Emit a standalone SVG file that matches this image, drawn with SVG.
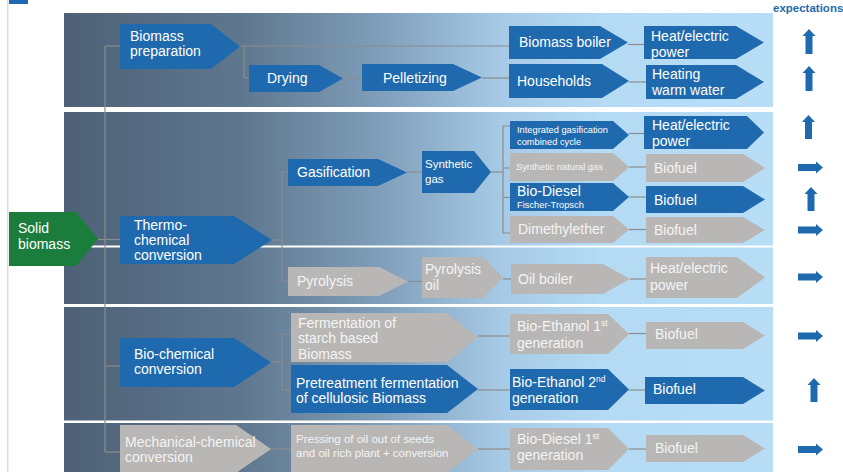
<svg xmlns="http://www.w3.org/2000/svg" width="843" height="472" viewBox="0 0 843 472">
  <defs>
    <linearGradient id="bg" gradientUnits="userSpaceOnUse" x1="64" y1="0" x2="773" y2="0">
      <stop offset="0" stop-color="#4e6176"/>
      <stop offset="0.25" stop-color="#5f778e"/>
      <stop offset="0.45" stop-color="#809fba"/>
      <stop offset="0.62" stop-color="#a7cbe7"/>
      <stop offset="0.76" stop-color="#b5daf4"/>
      <stop offset="1" stop-color="#b8ddf7"/>
    </linearGradient>
    <style>
      text { font-family: "Liberation Sans", Arial, sans-serif; font-size: 14px; fill: #ffffff; }
      .gt { fill: #f4f4f4; }
      .sm { font-size: 9.3px; }
      .md { font-size: 11.5px; }
      .blue { fill: #1f6aae; }
      .grey { fill: #b9b7b5; }
      .green { fill: #1a7d3b; }
      .exp { fill: #1f6aae; }
      .hdr { font-size: 11.5px; font-weight: bold; fill: #1f6aae; }
      #connectors line, #connectors path { stroke: #8c8c8c; stroke-width: 1.2; fill: none; }
    </style>
  </defs>

  <rect width="843" height="472" fill="#ffffff"/>
  <!-- page margin rule and tab -->
  <rect x="7" y="0" width="1.5" height="472" fill="#dcdcdc"/>
  <rect x="9" y="0" width="19" height="4" fill="#1f6aae"/>

  <!-- background bands -->
  <g id="bands">
    <rect x="64" y="13" width="709" height="94" fill="url(#bg)"/>
    <rect x="64" y="112" width="709" height="192" fill="url(#bg)"/>
    <rect x="64" y="245.5" width="709" height="2" fill="#ffffff"/>
    <rect x="64" y="307" width="709" height="113.5" fill="url(#bg)"/>
    <rect x="64" y="423" width="709" height="49" fill="url(#bg)"/>
  </g>

  <text x="773" y="12" class="hdr">expectations</text>

  <!-- connectors -->
  <g id="connectors">
    <line x1="105" y1="46" x2="105" y2="452"/>
    <line x1="105" y1="46" x2="120" y2="46"/>
    <line x1="98" y1="239.5" x2="120" y2="239.5"/>
    <line x1="105" y1="366" x2="120" y2="366"/>
    <line x1="105" y1="452" x2="120" y2="452"/>
    <line x1="240" y1="46" x2="509" y2="46"/>
    <path d="M244 46 V77.5 H249"/>
    <line x1="343" y1="78" x2="362" y2="78"/>
    <line x1="482" y1="78" x2="509" y2="78"/>
    <line x1="628" y1="44.5" x2="644" y2="44.5"/>
    <line x1="629" y1="82" x2="646" y2="82"/>
    <line x1="272" y1="240" x2="282" y2="240"/>
    <path d="M288 172 H282 V281 H288"/>
    <line x1="407" y1="172" x2="422" y2="172"/>
    <line x1="491" y1="172" x2="503" y2="172"/>
    <path d="M510 126 H503 V233 H510"/>
    <line x1="503" y1="168" x2="510" y2="168"/>
    <line x1="503" y1="197.5" x2="510" y2="197.5"/>
    <line x1="629" y1="133.5" x2="644" y2="133.5"/>
    <line x1="629" y1="167" x2="646" y2="167"/>
    <line x1="629" y1="197" x2="646" y2="197"/>
    <line x1="629" y1="229.5" x2="646" y2="229.5"/>
    <line x1="408" y1="281.5" x2="422" y2="281.5"/>
    <line x1="503" y1="279" x2="511" y2="279"/>
    <line x1="630" y1="279" x2="646" y2="279"/>
    <line x1="271" y1="362" x2="282" y2="362"/>
    <path d="M291 334 H282 V390 H291"/>
    <line x1="478" y1="336" x2="510" y2="336"/>
    <line x1="478" y1="390" x2="510" y2="390"/>
    <line x1="629" y1="333.5" x2="646" y2="333.5"/>
    <line x1="629" y1="390" x2="645" y2="390"/>
    <line x1="271" y1="449" x2="291" y2="449"/>
    <line x1="478" y1="449" x2="510" y2="449"/>
    <line x1="629" y1="449" x2="646" y2="449"/>
  </g>

  <!-- band 1: biomass preparation -->
  <g id="prep"><path class="blue" d="M120 24 H211 L240 46.5 L211 69 H120 Z"/><text x="130" y="41">Biomass</text><text x="130" y="56">preparation</text></g>
  <g id="drying"><path class="blue" d="M249 65 H319 L343 78.5 L319 92 H249 Z"/><text x="267" y="83">Drying</text></g>
  <g id="pelletizing"><path class="blue" d="M362 64 H453 L482 77.5 L453 91 H362 Z"/><text x="383" y="83">Pelletizing</text></g>
  <g id="biomass-boiler"><path class="blue" d="M509 26 H600 L628 42.5 L600 59 H509 Z"/><text x="519" y="47">Biomass boiler</text></g>
  <g id="households"><path class="blue" d="M509 64 H602 L629 81 L602 98 H509 Z"/><text x="517" y="86">Households</text></g>
  <g id="heat-power-1"><path class="blue" d="M644 26 H736 L764 42.5 L736 59 H644 Z"/><text x="651" y="41">Heat/electric</text><text x="651" y="57">power</text></g>
  <g id="heating"><path class="blue" d="M646 65 H736 L764 82 L736 99 H646 Z"/><text x="652" y="79">Heating</text><text x="652" y="95">warm water</text></g>

  <!-- band 2: thermo-chemical -->
  <g id="solid-biomass"><path class="green" d="M9 212 H76 L98 239 L76 266 H9 Z"/><text x="18" y="233">Solid</text><text x="18" y="249">biomass</text></g>
  <g id="thermo"><path class="blue" d="M120 216 H234 L272 240 L234 264 H120 Z"/><text x="134" y="230">Thermo-</text><text x="134" y="245">chemical</text><text x="134" y="260">conversion</text></g>
  <g id="gasification"><path class="blue" d="M288 159 H378 L407 172.5 L378 186 H288 Z"/><text x="297" y="177">Gasification</text></g>
  <g id="synthetic-gas"><path class="blue" d="M422 151 H474 L491 172 L474 193 H422 Z"/><text class="md" x="425" y="168">Synthetic</text><text class="md" x="425" y="183">gas</text></g>
  <g id="igcc"><path class="blue" d="M510 121 H613 L629 135 L613 149 H510 Z"/><text class="sm" x="517" y="133">Integrated gasification</text><text class="sm" x="517" y="145">combined cycle</text></g>
  <g id="heat-power-2"><path class="blue" d="M644 116 H747 L764 132.5 L747 149 H644 Z"/><text x="652" y="130">Heat/electric</text><text x="652" y="146">power</text></g>
  <g id="sng"><path class="grey" d="M510 153 H613 L629 167 L613 181 H510 Z"/><text class="sm gt" x="516" y="170">Synthetic natural gas</text></g>
  <g id="biofuel-1"><path class="grey" d="M646 154 H743 L765 168 L743 182 H646 Z"/><text class="gt" x="654" y="173">Biofuel</text></g>
  <g id="bio-diesel-ft"><path class="blue" d="M510 183 H613 L629 197 L613 211 H510 Z"/><text x="517" y="196">Bio-Diesel</text><text class="sm" x="517" y="208">Fischer-Tropsch</text></g>
  <g id="biofuel-2"><path class="blue" d="M646 186 H743 L765 199.5 L743 213 H646 Z"/><text x="654" y="205">Biofuel</text></g>
  <g id="dimethylether"><path class="grey" d="M510 216 H613 L629 229.5 L613 243 H510 Z"/><text class="gt" x="518" y="234">Dimethylether</text></g>
  <g id="biofuel-3"><path class="grey" d="M646 217 H743 L765 230 L743 243 H646 Z"/><text class="gt" x="654" y="235">Biofuel</text></g>

  <g id="pyrolysis"><path class="grey" d="M288 267 H379 L408 281.5 L379 296 H288 Z"/><text class="gt" x="297" y="286">Pyrolysis</text></g>
  <g id="pyrolysis-oil"><path class="grey" d="M422 257 H483 L503 277.5 L483 298 H422 Z"/><text class="gt" x="425" y="274">Pyrolysis</text><text class="gt" x="425" y="290">oil</text></g>
  <g id="oil-boiler"><path class="grey" d="M511 264 H603 L630 279 L603 294 H511 Z"/><text class="gt" x="518" y="284">Oil boiler</text></g>
  <g id="heat-power-3"><path class="grey" d="M646 257 H737 L765 277.5 L737 298 H646 Z"/><text class="gt" x="650" y="273">Heat/electric</text><text class="gt" x="650" y="290">power</text></g>

  <!-- band 3: bio-chemical -->
  <g id="biochem"><path class="blue" d="M120 338 H234 L271 362.5 L234 387 H120 Z"/><text x="134" y="359">Bio-chemical</text><text x="134" y="374">conversion</text></g>
  <g id="fermentation"><path class="grey" d="M291 313 H447 L478 337.5 L447 362 H291 Z"/><text class="gt" x="298" y="328">Fermentation of</text><text class="gt" x="298" y="343">starch based</text><text class="gt" x="298" y="359">Biomass</text></g>
  <g id="pretreatment"><path class="blue" d="M291 365 H447 L478 389 L447 413 H291 Z"/><text x="296" y="388">Pretreatment fermentation</text><text x="296" y="403">of cellulosic Biomass</text></g>
  <g id="bio-ethanol-1"><path class="grey" d="M510 314 H608 L629 334 L608 354 H510 Z"/><text class="gt" x="517" y="331">Bio-Ethanol 1<tspan dy="-5" font-size="8.5">st</tspan></text><text class="gt" x="517" y="348">generation</text></g>
  <g id="biofuel-4"><path class="grey" d="M646 322 H743 L765 335.5 L743 349 H646 Z"/><text class="gt" x="655" y="339">Biofuel</text></g>
  <g id="bio-ethanol-2"><path class="blue" d="M510 369 H608 L629 389.5 L608 410 H510 Z"/><text x="512" y="387">Bio-Ethanol 2<tspan dy="-5" font-size="8.5">nd</tspan></text><text x="512" y="403">generation</text></g>
  <g id="biofuel-5"><path class="blue" d="M645 377 H743 L765 390.5 L743 404 H645 Z"/><text x="653" y="394">Biofuel</text></g>

  <!-- band 4: mechanical-chemical -->
  <g id="mechanical"><path class="grey" d="M120 425 H236 L271 449 L236 473 H120 Z"/><text class="gt" x="125" y="447">Mechanical-chemical</text><text class="gt" x="125" y="462">conversion</text></g>
  <g id="pressing"><path class="grey" d="M291 425 H447 L478 449 L447 473 H291 Z"/><text class="md gt" x="296" y="443">Pressing of oil out of seeds</text><text class="md gt" x="296" y="457">and oil rich plant + conversion</text></g>
  <g id="bio-diesel-1"><path class="grey" d="M510 428 H608 L629 449 L608 470 H510 Z"/><text class="gt" x="517" y="444">Bio-Diesel 1<tspan dy="-5" font-size="8.5">st</tspan></text><text class="gt" x="517" y="460">generation</text></g>
  <g id="biofuel-6"><path class="grey" d="M646 435 H743 L765 448.5 L743 462 H646 Z"/><text class="gt" x="655" y="453">Biofuel</text></g>

  <!-- expectation arrows -->
  <g id="expectations" class="exp">
    <path d="M809 29 L815.5 36 H812.5 V54 H805.5 V36 H802.5 Z"/>
    <path d="M809 66 L815.5 73 H812.5 V91 H805.5 V73 H802.5 Z"/>
    <path d="M808.5 115 L815 122 H812 V139 H805 V122 H802 Z"/>
    <path d="M798 164 H816 V161.5 L823 167.5 L816 173.5 V171 H798 Z"/>
    <path d="M811 187 L817.5 194 H814.5 V211 H807.5 V194 H804.5 Z"/>
    <path d="M798 226.5 H816 V224 L823 230 L816 236 V233.5 H798 Z"/>
    <path d="M798 273.5 H816 V271 L823 277 L816 283 V280.5 H798 Z"/>
    <path d="M798 332.5 H816 V330 L823 336 L816 342 V339.5 H798 Z"/>
    <path d="M814 378 L820.5 385 H817.5 V402 H810.5 V385 H807.5 Z"/>
    <path d="M798 446 H816 V443.5 L823 449.5 L816 455.5 V453 H798 Z"/>
  </g>
</svg>
